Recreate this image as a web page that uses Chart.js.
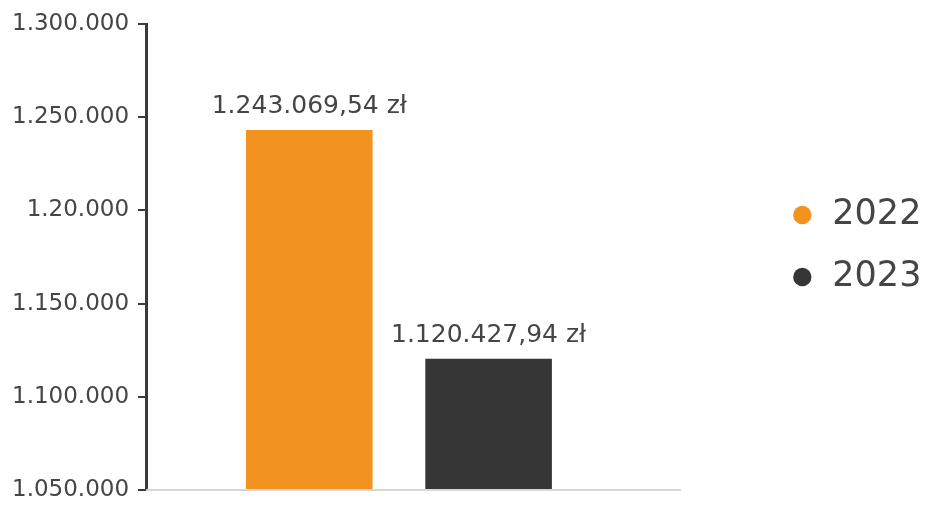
<!DOCTYPE html>
<html>
<head>
<meta charset="utf-8">
<script src="https://cdn.jsdelivr.net/npm/chart.js@4"></script>
<style>
  body { margin: 0; background: #ffffff; }
  #chart-window { width: 946px; height: 506px; }
</style>
</head>
<body>
<div id="chart-window"><canvas id="amount"></canvas></div>
<script>
let years = ["2022", "2023"]
let amounts = [1243069.54, 1120427.94]
let amountLabels = ["1.243.069,54 zł", "1.120.427,94 zł"]
let barColors = ["#F2921F", "#363636"]
let yTickLabels = ["1.050.000", "1.100.000", "1.150.000", "1.20.000", "1.250.000", "1.300.000"]

const textColor = '#454545'
const fontName = "'DejaVu Sans', sans-serif"

// value text above each bar + light baseline that runs a bit past the bars
const barText = {
  id: 'barText',
  afterLayout(chart) {
    // pull the legend items a bit left and up
    chart.legend.left -= 26
    chart.legend.bottom -= 22
  },
  afterDatasetsDraw(chart) {
    const ctx = chart.ctx
    const area = chart.chartArea
    ctx.save()
    ctx.strokeStyle = '#d6d6d6'
    ctx.lineWidth = 2
    ctx.beginPath()
    ctx.moveTo(area.left, area.bottom)
    ctx.lineTo(area.right + 29, area.bottom)
    ctx.stroke()

    ctx.font = "25px " + fontName
    ctx.fillStyle = textColor
    ctx.textAlign = 'center'
    ctx.textBaseline = 'bottom'
    chart.data.datasets.forEach((ds, i) => {
      const bar = chart.getDatasetMeta(i).data[0]
      ctx.fillText(amountLabels[i], bar.x, bar.y - 11)
    })
    ctx.restore()
  }
}

let datasets = []
for (let i = 0; i < years.length; i++) {
  datasets.push({
    label: years[i],
    data: [amounts[i]],
    backgroundColor: barColors[i],
    borderWidth: 0,
    pointStyle: 'circle',
    categoryPercentage: 0.709,
    barPercentage: 0.706
  })
}

new Chart(document.getElementById("amount"), {
  type: 'bar',
  data: {
    labels: ["kwota"],
    datasets: datasets
  },
  plugins: [barText],
  options: {
    responsive: true,
    maintainAspectRatio: false,
    animation: false,
    layout: {
      padding: { top: 24, bottom: 16, left: 3, right: 0 }
    },
    scales: {
      x: {
        display: false
      },
      y: {
        min: 1050000,
        max: 1300000,
        afterFit(scale) {
          scale.paddingTop = 0
          scale.paddingBottom = 0
        },
        ticks: {
          stepSize: 50000,
          color: textColor,
          padding: 9,
          font: { family: fontName, size: 23 },
          callback: (value, index) => yTickLabels[index]
        },
        grid: {
          drawOnChartArea: false,
          drawTicks: true,
          tickLength: 8,
          color: '#3a3a3a',
          lineWidth: 2
        },
        border: {
          color: '#3a3a3a',
          width: 3
        }
      },
      gap: {
        type: 'linear',
        position: 'right',
        grid: { display: false },
        border: { display: false },
        ticks: { display: false },
        afterFit(scale) {
          scale.width = 137
        }
      }
    },
    plugins: {
      tooltip: { enabled: false },
      legend: {
        position: 'right',
        labels: {
          usePointStyle: true,
          boxWidth: 25,
          boxHeight: 13,
          padding: 27,
          color: textColor,
          font: { family: fontName, size: 35 }
        }
      }
    }
  }
});
</script>
</body>
</html>
